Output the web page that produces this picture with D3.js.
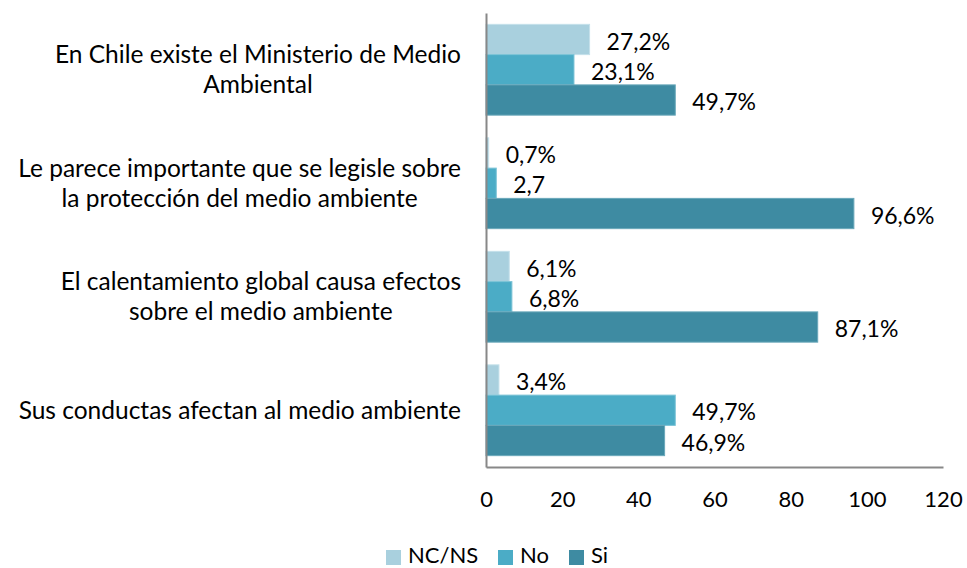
<!DOCTYPE html>
<html>
<head>
<meta charset="utf-8">
<script src="https://cdn.jsdelivr.net/npm/d3@7"></script>
<style>
  body { margin: 0; background: #fff; }
  text { font-family: Lato, "Open Sans", sans-serif; fill: #000; }
</style>
</head>
<body>
<div id="chart"></div>
<script>
var categories = [
  ["En Chile existe el Ministerio de Medio", "Ambiental"],
  ["Le parece importante que se legisle sobre", "la protección del medio ambiente"],
  ["El calentamiento global causa efectos", "sobre el medio ambiente"],
  ["Sus conductas afectan al medio ambiente"]
];
var seriesNames = ["NC/NS", "No", "Si"];
var ncnsValues = [27.2, 0.7, 6.1, 3.4];
var noValues = [23.1, 2.7, 6.8, 49.7];
var siValues = [49.7, 96.6, 87.1, 46.9];
var xTicks = [0, 20, 40, 60, 80, 100, 120];
// the "2,7" label has no percent sign in the original
var noPercent = ["No-1"];

(function() {
  var margin = { top: 13, left: 486, right: 24, bottom: 101 },
      fullWidth = 967, fullHeight = 568,
      width = fullWidth - margin.left - margin.right,
      height = fullHeight - margin.top - margin.bottom;

  var colors = { "NC/NS": "#a9d0de", "No": "#4bacc6", "Si": "#3e8ba2" };
  var strokes = { "NC/NS": "#c4e0ea", "No": "#7cc3d6", "Si": "#6aa8ba" };
  var valuesBySeries = { "NC/NS": ncnsValues, "No": noValues, "Si": siValues };

  var svg = d3.select("#chart")
    .append("svg")
    .attr("width", fullWidth)
    .attr("height", fullHeight)

  var g = svg.append("g")
    .attr("transform", "translate(" + margin.left + "," + margin.top + ")")

  var catIndex = d3.range(categories.length)

  var y = d3.scaleBand()
    .domain(catIndex)
    .range([0, height])
    .paddingInner(0.2)
    .paddingOuter(0.1)

  var ySub = d3.scaleBand()
    .domain(seriesNames)
    .range([0, y.bandwidth()])

  var x = d3.scaleLinear()
    .domain([0, 120])
    .range([0, width])

  var rows = []
  catIndex.forEach(function(i) {
    seriesNames.forEach(function(s) {
      rows.push({ cat: i, series: s, value: valuesBySeries[s][i] })
    })
  })

  g.selectAll(".bar")
    .data(rows)
    .enter().append("rect")
    .attr("class", "bar")
    .attr("x", 0)
    .attr("y", function(d) { return y(d.cat) + ySub(d.series) })
    .attr("width", function(d) { return x(d.value) })
    .attr("height", ySub.bandwidth())
    .attr("fill", function(d) { return colors[d.series] })
    .attr("stroke", function(d) { return strokes[d.series] })
    .attr("stroke-width", 1)

  g.selectAll(".val")
    .data(rows)
    .enter().append("text")
    .attr("class", "val")
    .attr("x", function(d) { return x(d.value) + 17 })
    .attr("y", function(d) { return y(d.cat) + ySub(d.series) + ySub.bandwidth() / 2 + 2 })
    .attr("dy", "0.35em")
    .attr("font-size", "23px")
    .text(function(d) {
      var t = d.value.toFixed(1).replace(".", ",")
      if (noPercent.indexOf(d.series + "-" + d.cat) < 0) t += "%"
      return t
    })

  // axes
  var xAxis = g.append("g")
    .attr("transform", "translate(0," + height + ")")
    .call(d3.axisBottom(x).tickValues(xTicks).tickSize(0).tickPadding(24))
  xAxis.select(".domain").attr("stroke", "#888").attr("stroke-width", 2)
  xAxis.selectAll("text")
    .attr("font-size", "22px")
    .attr("font-family", "Lato, sans-serif")
    .attr("fill", "#000")

  var yAxis = g.append("g")
    .call(d3.axisLeft(y).tickSize(0).tickFormat(""))
  yAxis.select(".domain").attr("stroke", "#888").attr("stroke-width", 2)

  // category labels, lines centred on each other, block right-aligned
  var labelRight = -25, lineHeight = 30
  catIndex.forEach(function(i) {
    var lines = categories[i]
    var lab = g.append("text")
      .attr("font-size", "24.5px")
      .attr("text-anchor", "middle")
    lines.forEach(function(line, k) {
      lab.append("tspan")
        .attr("y", y(i) + y.bandwidth() / 2 + (k - (lines.length - 1) / 2) * lineHeight)
        .attr("dy", "0.35em")
        .text(line)
    })
    var maxW = 0
    lab.selectAll("tspan").each(function() {
      maxW = Math.max(maxW, this.getComputedTextLength())
    })
    lab.selectAll("tspan").attr("x", labelRight - maxW / 2)
  })

  // legend
  var legend = svg.append("g")
    .attr("transform", "translate(386,550)")
  var legendX = [0, 112, 183]
  seriesNames.forEach(function(s, i) {
    legend.append("rect")
      .attr("x", legendX[i])
      .attr("y", 0)
      .attr("width", 15)
      .attr("height", 15)
      .attr("fill", colors[s])
    legend.append("text")
      .attr("x", legendX[i] + 22)
      .attr("y", 5)
      .attr("dy", "0.35em")
      .attr("font-size", "22px")
      .text(s)
  })
})();
</script>
</body>
</html>
